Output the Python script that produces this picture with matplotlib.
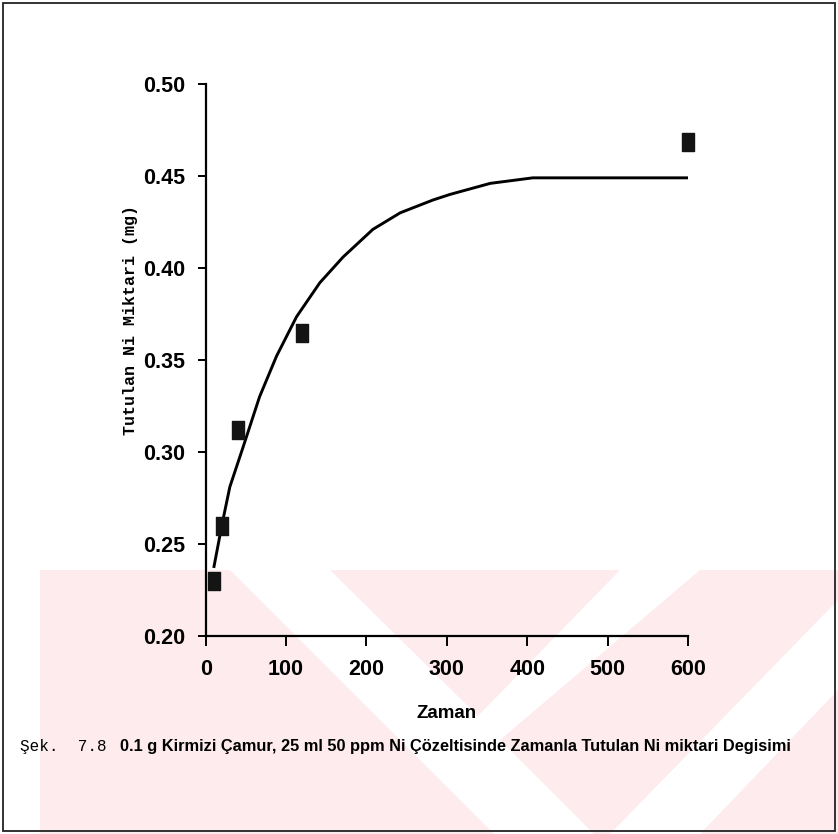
import matplotlib
matplotlib.use("Agg")
import matplotlib.pyplot as plt
from matplotlib.patches import Polygon, Rectangle
from matplotlib.path import Path

# ---- data ----
time_pts = [10, 20, 40, 120, 600]
ni_pts = [0.2297, 0.2598, 0.3118, 0.3647, 0.4686]

curve_x = [10, 20, 30, 46, 67, 88, 113, 142, 171, 208, 242, 283, 304, 354, 407, 450, 490, 600]
curve_y = [0.237, 0.260, 0.281, 0.302, 0.330, 0.352, 0.3735, 0.392, 0.406, 0.421,
           0.430, 0.437, 0.440, 0.446, 0.449, 0.449, 0.449, 0.449]

x_ticks = [0, 100, 200, 300, 400, 500, 600]
y_ticks = [0.20, 0.25, 0.30, 0.35, 0.40, 0.45, 0.50]
y_tick_labels = ["0.20", "0.25", "0.30", "0.35", "0.40", "0.45", "0.50"]

x_label = "Zaman"
y_label = "Tutulan Ni Miktari (mg)"
caption_a = "Şek.  7.8"
caption_b = "0.1 g Kirmizi Çamur, 25 ml 50 ppm Ni Çözeltisinde Zamanla Tutulan Ni miktari Degisimi"

W, H = 838, 834
fig = plt.figure(figsize=(W / 100, H / 100), dpi=100)
fig.patch.set_facecolor("white")

def P(x, y):
    return (x / W, 1 - y / H)

# faint watermark bands (scan background)
pink = "#fdebed"
shapes = [
    [(40, 570), (230, 570), (494, 834), (40, 834)],
    [(330, 570), (620, 570), (478, 716)],
    [(594, 834), (500, 740), (700, 570), (838, 570), (838, 600), (610, 834)],
    [(700, 834), (838, 690), (838, 834)],
]
for sh in shapes:
    fig.patches.append(Polygon([P(*p) for p in sh], closed=True, transform=fig.transFigure,
                               facecolor=pink, edgecolor="none", zorder=-10))

# page frame
fig.patches.append(Rectangle(P(3, 831), (835 - 3) / W, (831 - 3) / H, transform=fig.transFigure,
                             facecolor="none", edgecolor="#222222", linewidth=1.3, zorder=-5))

left, right, top, bottom = 205.7, 688, 84, 636
ax = fig.add_axes([left / W, 1 - bottom / H, (right - left) / W, (bottom - top) / H])
ax.patch.set_alpha(0)

ax.plot(curve_x, curve_y, color="black", linewidth=2.1, solid_capstyle="butt",
        solid_joinstyle="round", zorder=3)

rect = Path([(-1, -1.5), (1, -1.5), (1, 1.5), (-1, 1.5), (-1, -1.5)],
            [Path.MOVETO, Path.LINETO, Path.LINETO, Path.LINETO, Path.CLOSEPOLY])
ax.plot(time_pts, ni_pts, linestyle="none", marker=rect, markersize=13,
        markerfacecolor="#141414", markeredgecolor="#141414", zorder=4, clip_on=False)

ax.set_xlim(0, 600)
ax.set_ylim(0.20, 0.50)
for s in ["top", "right"]:
    ax.spines[s].set_visible(False)
for s in ["left", "bottom"]:
    ax.spines[s].set_linewidth(1.6)
ax.set_xticks(x_ticks)
ax.set_yticks(y_ticks)
ax.set_yticklabels(y_tick_labels)

sans = ["Liberation Sans", "DejaVu Sans"]
ax.tick_params(axis="x", direction="out", length=7.5, width=1.4, pad=9, labelsize=15.5)
ax.tick_params(axis="y", direction="out", length=6, width=1.4, pad=9, labelsize=15.5)
for lab in ax.get_xticklabels() + ax.get_yticklabels():
    lab.set_family(sans)
    lab.set_fontweight("bold")

fig.text(130 / W, 1 - 320 / H, y_label, rotation=90, ha="center", va="center",
         family=["Liberation Mono", "DejaVu Sans Mono"], fontweight="bold", fontsize=12)
fig.text(447 / W, 1 - 713 / H, x_label, ha="center", va="center",
         family=sans, fontweight="bold", fontsize=13.5)

fig.text(20 / W, 1 - 746 / H, caption_a, ha="left", va="center",
         family=["Liberation Mono", "DejaVu Sans Mono"], fontsize=11.5)
tb = fig.text(120 / W, 1 - 746 / H, caption_b, ha="left", va="center",
              family=sans, fontweight="bold", fontsize=12)
fig.canvas.draw()
r = fig.canvas.get_renderer()
wpx = tb.get_window_extent(r).width
tb.set_fontsize(12 * 668 / wpx)

fig.savefig("out.png", dpi=100, facecolor="white")
